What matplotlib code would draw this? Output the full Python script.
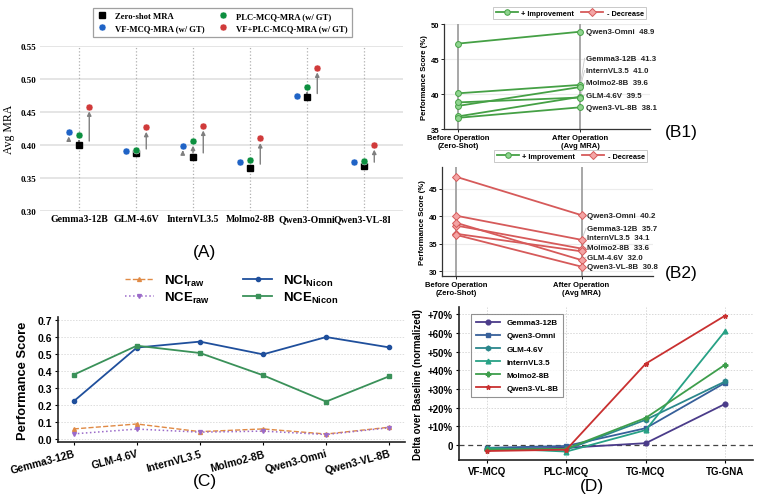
import matplotlib
matplotlib.use('Agg')
import matplotlib.pyplot as plt
from matplotlib.lines import Line2D
from matplotlib.transforms import Bbox, TransformedBbox
import numpy as np

SANS = 'Liberation Sans'
SERIF = 'Liberation Serif'
plt.rcParams['font.family'] = SANS
plt.rcParams['mathtext.fontset'] = 'custom'
plt.rcParams['mathtext.rm'] = SANS
plt.rcParams['mathtext.bf'] = SANS + ':bold'
plt.rcParams['mathtext.it'] = SANS + ':italic'

# ---------------- data ----------------
models = ['Gemma3-12B', 'GLM-4.6V', 'InternVL3.5', 'Molmo2-8B', 'Qwen3-Omni', 'Qwen3-VL-8B']

# Panel A
zs_mra = [0.400, 0.388, 0.382, 0.365, 0.472, 0.368]
vf_mra = [0.420, 0.391, 0.399, 0.375, 0.475, 0.375]
plc_mra = [0.415, 0.393, 0.406, 0.378, 0.488, 0.376]
vfplc_mra = [0.458, 0.427, 0.429, 0.410, 0.517, 0.400]
a_labels = ['Zero-shot MRA', 'VF-MCQ-MRA (w/ GT)', 'PLC-MCQ-MRA (w/ GT)', 'VF+PLC-MCQ-MRA (w/ GT)']
a_yticks = [0.30, 0.35, 0.40, 0.45, 0.50, 0.55]

# Panel B
b_models = ['Qwen3-Omni', 'Gemma3-12B', 'InternVL3.5', 'Molmo2-8B', 'GLM-4.6V', 'Qwen3-VL-8B']
b_before = [47.2, 40.1, 38.3, 36.8, 38.8, 36.6]
b1_after = [48.9, 41.3, 41.0, 39.6, 39.5, 38.1]
b2_after = [40.2, 35.7, 34.1, 33.6, 32.0, 30.8]
b_xticklabels = ['Before Operation\n(Zero-Shot)', 'After Operation\n(Avg MRA)']
b1_yticks = [35, 40, 45, 50]
b2_yticks = [30, 35, 40, 45]

# Panel C
nci_raw = [0.059, 0.088, 0.043, 0.059, 0.029, 0.069]
nce_raw = [0.030, 0.058, 0.040, 0.046, 0.026, 0.066]
nci_nicon = [0.222, 0.538, 0.573, 0.498, 0.600, 0.539]
nce_nicon = [0.378, 0.549, 0.506, 0.375, 0.220, 0.369]
c_yticks = [0.0, 0.1, 0.2, 0.3, 0.4, 0.5, 0.6, 0.7]

# Panel D
tasks = ['VF-MCQ', 'PLC-MCQ', 'TG-MCQ', 'TG-GNA']
d_models = ['Gemma3-12B', 'Qwen3-Omni', 'GLM-4.6V', 'InternVL3.5', 'Molmo2-8B', 'Qwen3-VL-8B']
d_gemma = [-2.0, -1.5, 1.0, 22.0]
d_omni = [-1.5, -0.5, 9.0, 33.3]
d_glm = [-2.0, -2.5, 13.5, 34.0]
d_intern = [-1.5, -3.5, 8.0, 61.0]
d_molmo = [-2.5, -2.0, 14.5, 43.0]
d_qvl = [-3.2, -2.5, 43.5, 69.2]
d_yticks = [0, 10, 20, 30, 40, 50, 60, 70]

# ---------------- figure ----------------
W, H = 760, 502
fig = plt.figure(figsize=(W / 100, H / 100), dpi=100)


def add_ax(x0, y0, x1, y1):
    return fig.add_axes([x0 / W, 1 - y1 / H, (x1 - x0) / W, (y1 - y0) / H])


clip_left = TransformedBbox(Bbox([[0, 0], [390 / W, 1]]), fig.transFigure)

# ================= Panel A =================
axA = add_ax(40, 47, 403, 212)
xa = np.arange(len(models))
axA.set_xlim(-0.684, 5.684)
axA.set_ylim(0.30, 0.55)
for s in axA.spines.values():
    s.set_visible(False)
axA.set_yticks(a_yticks)
axA.set_yticklabels(['%.2f' % v for v in a_yticks], fontfamily=SERIF, fontweight='bold', fontsize=6.5)
axA.set_xticks(xa)
axA.set_xticklabels(models, fontfamily=SERIF, fontweight='bold', fontsize=7.0)
axA.tick_params(length=0, pad=2.5)
for yv in a_yticks:
    axA.axhline(yv, color='#e3e3e3', lw=1.3, zorder=0)
for xv in xa:
    axA.axvline(xv, color='#b0b0b0', ls=':', lw=0.9, zorder=0)
axA.set_ylabel('Avg MRA', fontfamily=SERIF, fontsize=8.5, labelpad=4)

cblue, cgreen, cred = '#1f63c6', '#0c8f3f', '#d03a3a'
offs = [-0.18, 0.0, 0.18]
series = [vf_mra, plc_mra, vfplc_mra]
for i in range(len(models)):
    for off, ser in zip(offs, series):
        axA.annotate('', xy=(xa[i] + off, ser[i] - 0.007), xytext=(xa[i] + off, zs_mra[i] + 0.006),
                     arrowprops=dict(arrowstyle='-|>', color='#7f7f7f', lw=1.0, mutation_scale=6,
                                     shrinkA=0, shrinkB=0), zorder=2)
axA.plot(xa, zs_mra, 's', color='black', ms=5.0, zorder=3, label=a_labels[0])
axA.plot(xa - 0.18, vf_mra, 'o', color=cblue, ms=5.0, mec='white', mew=0.3, zorder=4, label=a_labels[1])
axA.plot(xa, plc_mra, 'o', color=cgreen, ms=5.0, mec='white', mew=0.3, zorder=4, label=a_labels[2])
axA.plot(xa + 0.18, vfplc_mra, 'o', color=cred, ms=5.0, mec='white', mew=0.3, zorder=4, label=a_labels[3])
legA = axA.legend(loc='lower center', bbox_to_anchor=(0.503, 1.055), ncol=2, frameon=True, fancybox=False,
                  prop=dict(family=SERIF, weight='bold', size=6.2), columnspacing=1.6, handletextpad=1.0,
                  borderpad=0.55, labelspacing=0.45, handlelength=1.0, borderaxespad=0)
legA.get_frame().set_edgecolor('#888888')
legA.get_frame().set_linewidth(0.9)
for lbl in axA.get_xticklabels():
    lbl.set_clip_on(True)
    lbl.set_clip_box(clip_left)
fig.text(205 / W, 1 - 253 / H, '(A)', fontsize=12.5, ha='center', va='center', family=SANS)

# ================= Panel B =================
gline, gface = '#45a045', '#8fd48f'
rline, rface = '#d65a5a', '#f4a5a5'


def panel_b(ax, after, lc, fc, marker, ms, ylim, yticks, gap, legend_y):
    ax.set_xlim(-0.115, 1.57)
    ax.set_ylim(*ylim)
    for k in ['top', 'right']:
        ax.spines[k].set_visible(False)
    for k in ['left', 'bottom']:
        ax.spines[k].set_color('#333333')
        ax.spines[k].set_linewidth(0.9)
    ax.set_yticks(yticks)
    ax.set_yticklabels([str(v) for v in yticks], fontsize=5.5, fontweight='bold')
    ax.set_xticks([0, 1])
    ax.set_xticklabels(b_xticklabels, fontsize=5.5, fontweight='bold')
    ax.tick_params(length=2, width=0.6, pad=1.5)
    for yv in yticks:
        ax.axhline(yv, color='#ececec', lw=0.8, zorder=0)
    ax.axvline(0, color='#a0a0a0', lw=1.3, zorder=1)
    ax.axvline(1, color='#a0a0a0', lw=1.3, zorder=1)
    for b, a in zip(b_before, after):
        ax.plot([0, 1], [b, a], color=lc, lw=1.3, marker=marker, ms=ms, mfc=fc, mec=lc, mew=0.7, zorder=3)
    # label positions (simple repel from bottom)
    order = np.argsort(after)
    ly = {}
    prev = -1e9
    for idx in order:
        y = max(after[idx], prev + gap)
        ly[idx] = y
        prev = y
    for idx in range(len(after)):
        if abs(ly[idx] - after[idx]) > 0.3:
            ax.plot([1.0, 1.035], [after[idx], ly[idx]], color='#c8c8c8', lw=0.6, zorder=2)
        ax.text(1.045, ly[idx], '%s  %.1f' % (b_models[idx], after[idx]), fontsize=5.7, fontweight='bold',
                va='center', ha='left', color='#222222')
    ax.set_ylabel('Performance Score (%)', fontsize=5.6, fontweight='bold', labelpad=2)
    h1 = Line2D([], [], color=gline, lw=1.3, marker='o', ms=4, mfc=gface, mec=gline, mew=0.7)
    h2 = Line2D([], [], color=rline, lw=1.3, marker='D', ms=3.8, mfc=rface, mec=rline, mew=0.7)
    lg = ax.legend([h1, h2], ['+ Improvement', '- Decrease'], loc='lower center', bbox_to_anchor=(0.61, legend_y),
                   ncol=2, prop=dict(weight='bold', size=5.3), frameon=True, fancybox=False,
                   handlelength=3.0, columnspacing=0.9, handletextpad=0.5, borderpad=0.35, borderaxespad=0)
    lg.get_frame().set_edgecolor('#bbbbbb')
    lg.get_frame().set_linewidth(0.7)


axB1 = add_ax(444, 25, 650, 130)
panel_b(axB1, b1_after, gline, gface, 'o', 4.2, (35, 50), b1_yticks, 1.75, 1.045)
fig.text(681 / W, 1 - 133 / H, '(B1)', fontsize=12.5, ha='center', va='center', family=SANS)

axB2 = add_ax(442, 168, 653, 277)
panel_b(axB2, b2_after, rline, rface, 'D', 4.0, (29.1, 49.0), b2_yticks, 1.75, 1.045)
fig.text(681 / W, 1 - 274 / H, '(B2)', fontsize=12.5, ha='center', va='center', family=SANS)

# ================= Panel C =================
axC = add_ax(58, 318, 405, 443)
axC.set_xlim(-0.25, 5.25)
axC.set_ylim(-0.018, 0.718)
for k in ['top', 'right']:
    axC.spines[k].set_visible(False)
for k in ['left', 'bottom']:
    axC.spines[k].set_color('#222222')
    axC.spines[k].set_linewidth(1.2)
axC.set_yticks(c_yticks)
axC.set_yticklabels(['%.1f' % v for v in c_yticks], fontsize=7.5, fontweight='bold')
axC.set_xticks(xa)
axC.set_xticklabels(models, fontsize=7.5, fontweight='bold', rotation=15, ha='right', rotation_mode='anchor')
axC.tick_params(length=2.5, width=0.8, pad=2)
for yv in c_yticks:
    axC.axhline(yv, color='#dddddd', lw=0.7, ls=(0, (1.5, 1.5)), zorder=0)
axC.plot(xa, nci_raw, color='#e08a45', ls='--', lw=1.0, marker='^', ms=2.8, label=r'$\mathbf{NCI}_{\mathbf{raw}}$', zorder=3)
axC.plot(xa, nce_raw, color='#9b6bc9', ls=':', lw=1.1, marker='v', ms=2.8, label=r'$\mathbf{NCE}_{\mathbf{raw}}$', zorder=3)
axC.plot(xa, nci_nicon, color='#1f4f9c', ls='-', lw=1.3, marker='o', ms=3.0, label=r'$\mathbf{NCI}_{\mathbf{Nicon}}$', zorder=4)
axC.plot(xa, nce_nicon, color='#3a9159', ls='-', lw=1.3, marker='s', ms=3.0, label=r'$\mathbf{NCE}_{\mathbf{Nicon}}$', zorder=4)
axC.set_ylabel('Performance Score', fontsize=9.3, fontweight='bold', labelpad=6)
legC = axC.legend(loc='lower center', bbox_to_anchor=(0.5, 1.0), ncol=2, frameon=False, fontsize=9.5,
                  columnspacing=2.5, handletextpad=0.8, labelspacing=0.15, handlelength=2.2)
for lbl in axC.get_xticklabels():
    lbl.set_clip_on(True)
    lbl.set_clip_box(clip_left)
fig.text(205 / W, 1 - 482 / H, '(C)', fontsize=12.5, ha='center', va='center', family=SANS)

# ================= Panel D =================
axD = add_ax(459, 308, 753, 461)
xd = np.arange(len(tasks))
axD.set_xlim(-0.35, 3.35)
axD.set_ylim(-8, 73.8)
for k in ['top', 'right']:
    axD.spines[k].set_visible(False)
for k in ['left', 'bottom']:
    axD.spines[k].set_color('#222222')
    axD.spines[k].set_linewidth(1.2)
axD.set_yticks(d_yticks)
axD.set_yticklabels(['0' if v == 0 else '+%d%%' % v for v in d_yticks], fontsize=7, fontweight='bold')
axD.set_xticks(xd)
axD.set_xticklabels(tasks, fontsize=7, fontweight='bold')
axD.tick_params(length=2.5, width=0.8, pad=2)
for yv in d_yticks[1:]:
    axD.axhline(yv, color='#d8d8d8', lw=0.7, ls=(0, (1.5, 1.5)), zorder=0)
for xv in xd:
    axD.axvline(xv, color='#d8d8d8', lw=0.7, ls=(0, (1.5, 1.5)), zorder=0)
axD.axhline(0, color='#444444', lw=0.9, ls=(0, (4, 3)), zorder=1)
d_series = [d_gemma, d_omni, d_glm, d_intern, d_molmo, d_qvl]
d_colors = ['#4b3c8a', '#37609a', '#2b878c', '#27a185', '#3e9e4c', '#c93030']
d_markers = ['o', 's', 'h', '^', 'P', '*']
for name, ser, col, mk in zip(d_models, d_series, d_colors, d_markers):
    axD.plot(xd, ser, color=col, lw=1.3, marker=mk, ms=3.4, label=name, zorder=3)
axD.set_ylabel('Delta over Baseline (normalized)', fontsize=7, fontweight='bold', labelpad=3)
legD = axD.legend(loc='upper left', bbox_to_anchor=(0.04, 0.955), prop=dict(weight='bold', size=5.8),
                  frameon=True, fancybox=False, handlelength=3.0, handletextpad=0.8, labelspacing=0.68,
                  borderpad=0.6, borderaxespad=0)
legD.get_frame().set_edgecolor('#777777')
legD.get_frame().set_linewidth(0.8)
fig.text(592 / W, 1 - 487 / H, '(D)', fontsize=12.5, ha='center', va='center', family=SANS)

fig.savefig('out.png', dpi=100)
